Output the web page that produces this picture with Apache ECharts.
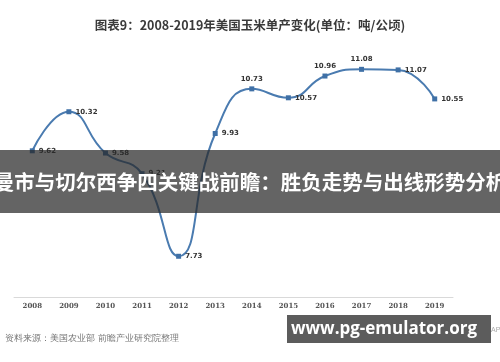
<!DOCTYPE html>
<html><head><meta charset="utf-8">
<script src="https://cdn.jsdelivr.net/npm/echarts@6/dist/echarts.min.js"></script>
<style>html,body{margin:0;padding:0;background:#fff}#c{width:500px;height:362px}</style>
</head><body><div id="c"></div>
<script>
const years = ['2008','2009','2010','2011','2012','2013','2014','2015','2016','2017','2018','2019'];
const yields = [9.62,10.32,9.58,9.21,7.73,9.93,10.73,10.57,10.96,11.08,11.07,10.55];
const labelPos = ['right','right','right','right','right','right','top','right','top','top','right','right'];
const titleText = '图表9：2008-2019年美国玉米单产变化(单位：吨/公顷)';
const sourceText = '资料来源：美国农业部 前瞻产业研究院整理';
const bannerText = '曼市与切尔西争四关键战前瞻：胜负走势与出线形势分析';
const siteText = 'www.pg-emulator.org';

const chart = echarts.init(document.getElementById('c'), null, {renderer:'canvas'});
chart.setOption({
  animation:false,
  title:{text:titleText,left:'center',top:14,textStyle:{fontSize:12.5,fontWeight:'bold',color:'#3a3a3a',fontFamily:'"Noto Sans CJK SC", sans-serif'}},
  grid:{left:14,right:47,top:18,bottom:65},
  xAxis:{type:'category',data:years,boundaryGap:true,
    axisLine:{lineStyle:{color:'#d9d9d9',width:1}},axisTick:{show:false},
    axisLabel:{fontSize:7,fontWeight:'bold',color:'#555',margin:6,fontFamily:'"DejaVu Serif", serif'}},
  yAxis:{type:'value',min:7,max:12,show:false,splitLine:{show:false}},
  series:[{type:'line',data:yields.map((v,i)=>({value:v,label:{position:labelPos[i]}})),smooth:0.5,
    symbol:'rect',symbolSize:5,
    lineStyle:{color:'#4a7bb0',width:2},
    itemStyle:{color:'#3f70a6'},
    label:{show:true,fontSize:7,fontWeight:'bold',color:'#333',distance:4,fontFamily:'"DejaVu Sans", sans-serif'}}],
  graphic:[
    {type:'text',left:5,top:334,z:10,style:{text:sourceText,fontSize:9,fill:'#777',font:'9px "Noto Sans CJK SC", sans-serif'}},
    {type:'rect',shape:{x:0,y:150,width:500,height:63},z:100,style:{fill:'rgba(40,40,40,0.72)'}},
    {type:'text',x:250,y:182,z:101,style:{text:bannerText,fill:'#fff',font:'bold 20.5px "Noto Sans CJK SC", sans-serif',textAlign:'center',textVerticalAlign:'middle'}},
    {type:'rect',shape:{x:287,y:315,width:204,height:28},z:100,style:{fill:'#5c5c5c'}},
    {type:'text',x:384,y:329,z:101,style:{text:siteText,fill:'#fff',font:'bold 17px "Open Sans", sans-serif',textAlign:'center',textVerticalAlign:'middle'}},
    {type:'text',x:491,y:330,z:99,style:{text:'APP',fill:'#aaa',font:'7px sans-serif',textVerticalAlign:'middle'}}
  ]
});
</script></body></html>
